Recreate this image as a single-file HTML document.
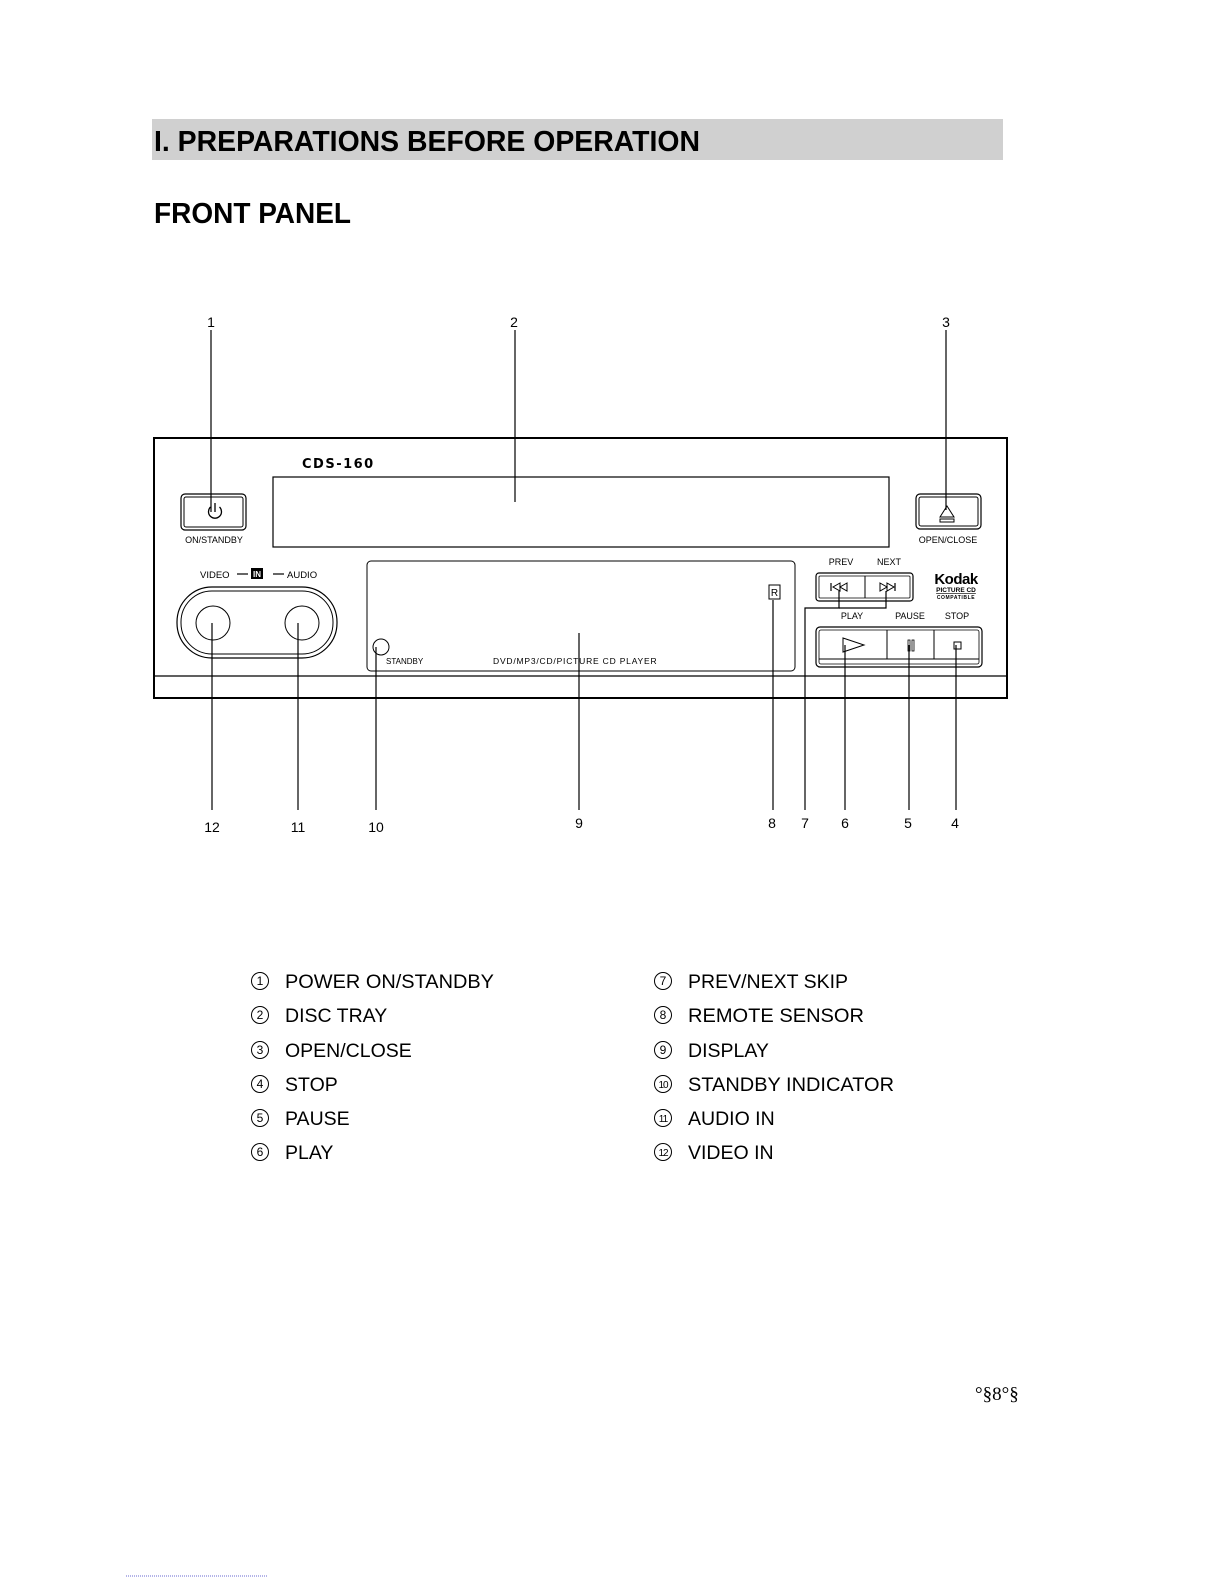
<!DOCTYPE html>
<html><head><meta charset="utf-8"><style>
html,body{margin:0;padding:0;background:#fff;}
svg{display:block;}
text{font-family:"Liberation Sans",Arial,sans-serif;fill:#000;}
</style></head><body>
<svg width="1225" height="1585" viewBox="0 0 1225 1585" xmlns="http://www.w3.org/2000/svg">
<rect x="152" y="119" width="851" height="41" fill="#d0d0d0"/>
<text x="154" y="151" font-size="29" font-weight="bold" textLength="546" lengthAdjust="spacingAndGlyphs">I. PREPARATIONS BEFORE OPERATION</text>
<text x="154" y="223" font-size="29" font-weight="bold" textLength="197" lengthAdjust="spacingAndGlyphs">FRONT PANEL</text>

<g stroke="#000" fill="none">
<rect x="154" y="438" width="853" height="260" stroke-width="2"/>
<line x1="154" y1="676" x2="1007" y2="676" stroke-width="1.2"/>
<rect x="181" y="494" width="65" height="36" rx="4" stroke-width="1.2"/>
<rect x="184" y="497" width="59" height="30" rx="2" stroke-width="1"/>
<path d="M210.5 507 A6.5 6.5 0 1 0 219.5 507" stroke-width="1.3"/>
<line x1="215" y1="503" x2="215" y2="512" stroke-width="1.3"/>
<rect x="273" y="477" width="616" height="70" stroke-width="1.2"/>
<rect x="367" y="561" width="428" height="110" rx="4" stroke-width="1"/>
<circle cx="381" cy="647" r="8" stroke-width="1"/>
<rect x="769" y="585" width="11" height="14" stroke-width="1"/>
<rect x="177" y="587" width="160" height="71" rx="35" stroke-width="1.2"/>
<rect x="181" y="591" width="152" height="63" rx="31" stroke-width="1"/>
<circle cx="213" cy="623" r="17" stroke-width="1"/>
<circle cx="302" cy="623" r="17" stroke-width="1"/>
<line x1="237" y1="574" x2="248" y2="574" stroke-width="1.2"/>
<line x1="273" y1="574" x2="284" y2="574" stroke-width="1.2"/>
<rect x="916" y="494" width="65" height="35" rx="4" stroke-width="1.2"/>
<rect x="919" y="497" width="59" height="29" rx="2" stroke-width="1"/>
<path d="M940 517 L947 506 L954 517 Z" stroke-width="1"/>
<rect x="940" y="519" width="14" height="3" stroke-width="1"/>
<rect x="816" y="573" width="97" height="28" rx="3" stroke-width="1.2"/>
<rect x="819" y="576" width="91" height="22" rx="1" stroke-width="0.8"/>
<line x1="865" y1="576" x2="865" y2="598" stroke-width="1"/>
<line x1="831" y1="583" x2="831" y2="591" stroke-width="1.2"/>
<path d="M840 583 L833 587 L840 591 Z M847 583 L840 587 L847 591 Z" stroke-width="1"/>
<path d="M880 583 L887 587 L880 591 Z M887 583 L894 587 L887 591 Z" stroke-width="1"/>
<line x1="895" y1="583" x2="895" y2="591" stroke-width="1.2"/>
<rect x="816" y="627" width="166" height="40" rx="4" stroke-width="1.2"/>
<rect x="819" y="630" width="160" height="34" rx="2" stroke-width="0.8"/>
<line x1="819" y1="659" x2="979" y2="659" stroke-width="1"/>
<line x1="887" y1="630" x2="887" y2="659" stroke-width="1"/>
<line x1="934" y1="630" x2="934" y2="659" stroke-width="1"/>
<path d="M843 638 L864 645 L843 652 Z" stroke-width="1"/>
<rect x="908" y="640" width="2" height="11" stroke-width="0.8"/>
<rect x="912" y="640" width="2" height="11" stroke-width="0.8"/>
<rect x="954" y="642" width="7" height="7" stroke-width="1"/>
<g stroke-width="1.2">
<line x1="211" y1="330" x2="211" y2="512"/>
<line x1="515" y1="330" x2="515" y2="502"/>
<line x1="946" y1="330" x2="946" y2="510"/>
<line x1="212" y1="623" x2="212" y2="810"/>
<line x1="298" y1="623" x2="298" y2="810"/>
<line x1="376" y1="647" x2="376" y2="810"/>
<line x1="579" y1="633" x2="579" y2="810"/>
<line x1="773" y1="600" x2="773" y2="810"/>
<polyline points="839,591 839,608 805,608 805,810"/>
<polyline points="886,591 886,608 839,608"/>
<line x1="845" y1="645" x2="845" y2="810"/>
<line x1="909" y1="645" x2="909" y2="810"/>
<line x1="956" y1="645" x2="956" y2="810"/>
</g>
</g>
<text x="302" y="468" font-size="13" font-weight="bold" letter-spacing="1.5" style="font-family:'DejaVu Sans',sans-serif">CDS-160</text>
<text x="214" y="543" font-size="9" text-anchor="middle">ON/STANDBY</text>
<text x="948" y="543" font-size="9" text-anchor="middle">OPEN/CLOSE</text>
<text x="200" y="578" font-size="9.5">VIDEO</text>
<rect x="251" y="568" width="12" height="11" fill="#000"/>
<text x="257" y="577" font-size="8" text-anchor="middle" font-weight="bold" style="fill:#fff">IN</text>
<text x="287" y="578" font-size="9.5">AUDIO</text>
<text x="386" y="664" font-size="8">STANDBY</text>
<text x="493" y="664" font-size="8.5" letter-spacing="0.8">DVD/MP3/CD/PICTURE CD PLAYER</text>
<text x="774.5" y="596" font-size="10" text-anchor="middle">R</text>
<text x="841" y="565" font-size="9" text-anchor="middle">PREV</text>
<text x="889" y="565" font-size="9" text-anchor="middle">NEXT</text>
<text x="852" y="619" font-size="9" text-anchor="middle">PLAY</text>
<text x="910" y="619" font-size="9" text-anchor="middle">PAUSE</text>
<text x="957" y="619" font-size="9" text-anchor="middle">STOP</text>
<text x="956" y="584" font-size="15" font-weight="bold" text-anchor="middle" letter-spacing="-0.5">Kodak</text>
<text x="956" y="592" font-size="6.5" font-weight="bold" text-anchor="middle" text-decoration="underline">PICTURE CD</text>
<text x="956" y="599" font-size="5" font-weight="bold" text-anchor="middle" letter-spacing="0.6">COMPATIBLE</text>
<g font-size="14" text-anchor="middle">
<text x="211" y="327">1</text><text x="514" y="327">2</text><text x="946" y="327">3</text>
<text x="212" y="832">12</text><text x="298" y="832">11</text><text x="376" y="832">10</text>
<text x="579" y="828">9</text><text x="772" y="828">8</text><text x="805" y="828">7</text>
<text x="845" y="828">6</text><text x="908" y="828">5</text><text x="955" y="828">4</text>
</g>
<g fill="none" stroke="#000" stroke-width="1">
<circle cx="260" cy="981" r="8.5"/><circle cx="260" cy="1015" r="8.5"/><circle cx="260" cy="1050" r="8.5"/>
<circle cx="260" cy="1084" r="8.5"/><circle cx="260" cy="1118" r="8.5"/><circle cx="260" cy="1152" r="8.5"/>
<circle cx="663" cy="981" r="8.5"/><circle cx="663" cy="1015" r="8.5"/><circle cx="663" cy="1050" r="8.5"/>
<circle cx="663" cy="1084" r="8.5"/><circle cx="663" cy="1118" r="8.5"/><circle cx="663" cy="1152" r="8.5"/>
</g>
<g font-size="12" text-anchor="middle">
<text x="260" y="985">1</text><text x="260" y="1019">2</text><text x="260" y="1054">3</text>
<text x="260" y="1088">4</text><text x="260" y="1122">5</text><text x="260" y="1156">6</text>
<text x="663" y="985">7</text><text x="663" y="1019">8</text><text x="663" y="1054">9</text>
<text x="663" y="1088" font-size="10" letter-spacing="-1">10</text><text x="663" y="1122" font-size="10" letter-spacing="-1">11</text><text x="663" y="1156" font-size="10" letter-spacing="-1">12</text>
</g>
<g font-size="19.5">
<text x="285" y="988" textLength="209" lengthAdjust="spacingAndGlyphs">POWER ON/STANDBY</text>
<text x="285" y="1022">DISC TRAY</text>
<text x="285" y="1057">OPEN/CLOSE</text>
<text x="285" y="1091">STOP</text>
<text x="285" y="1125">PAUSE</text>
<text x="285" y="1159">PLAY</text>
<text x="688" y="988">PREV/NEXT SKIP</text>
<text x="688" y="1022" textLength="176" lengthAdjust="spacingAndGlyphs">REMOTE SENSOR</text>
<text x="688" y="1057">DISPLAY</text>
<text x="688" y="1091" textLength="206" lengthAdjust="spacingAndGlyphs">STANDBY INDICATOR</text>
<text x="688" y="1125">AUDIO IN</text>
<text x="688" y="1159">VIDEO IN</text>
</g>
<text x="975" y="1400" font-size="19" style="font-family:'Liberation Serif',serif">°§8°§</text>
<line x1="126" y1="1576" x2="268" y2="1576" stroke="#6a6ad0" stroke-width="1" stroke-dasharray="1,1"/>
</svg>
</body></html>
